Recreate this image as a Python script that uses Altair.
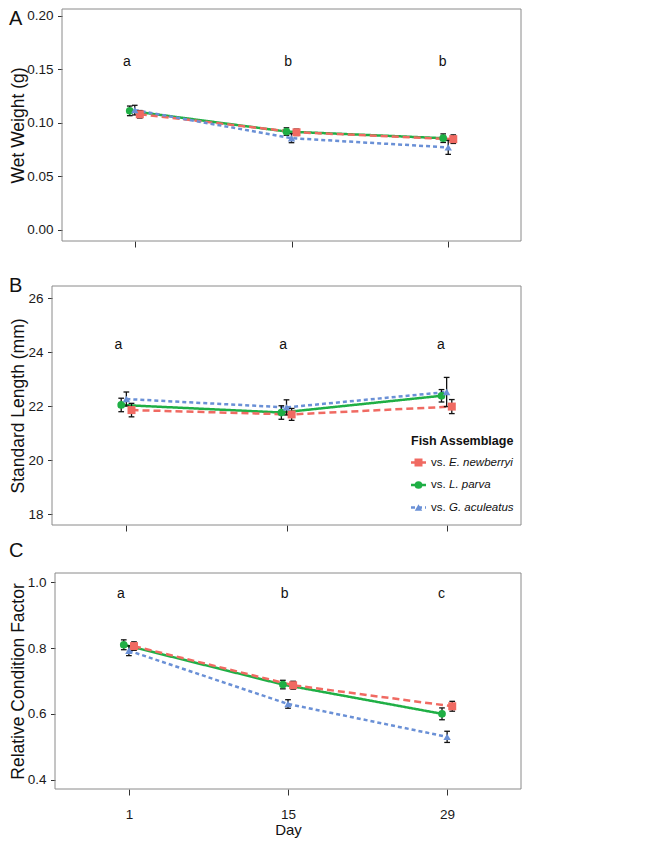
import altair as alt
import pandas as pd

# ---------------- data ----------------
days = [1, 15, 29]
series = ["vs. E. newberryi", "vs. L. parva", "vs. G. aculeatus"]
species = ["E. newberryi", "L. parva", "G. aculeatus"]
colors = ["#F06A62", "#1FAF45", "#6A90D6"]
dashes = [[7, 4], [1, 0], [4, 3]]
shapes = ["square", "circle", "triangle-up"]
sizes = [64, 55, 115]
dodge = [0.45, -0.45, 0.0]
draw_order = [1, 0, 2]

# Wet weight (g)
ww_en = [0.1078, 0.0910, 0.0846]
ww_en_se = [0.0035, 0.0030, 0.0040]
ww_lp = [0.1110, 0.0917, 0.0855]
ww_lp_se = [0.0045, 0.0035, 0.0040]
ww_ga = [0.1117, 0.0855, 0.0769]
ww_ga_se = [0.0045, 0.0042, 0.0065]

# Standard length (mm)
sl_en = [21.86, 21.70, 21.99]
sl_en_se = [0.25, 0.22, 0.26]
sl_lp = [22.05, 21.77, 22.39]
sl_lp_se = [0.25, 0.25, 0.23]
sl_ga = [22.27, 21.96, 22.53]
sl_ga_se = [0.26, 0.28, 0.54]

# Relative condition factor
rc_en = [0.806, 0.687, 0.623]
rc_en_se = [0.013, 0.012, 0.015]
rc_lp = [0.810, 0.689, 0.600]
rc_lp_se = [0.015, 0.013, 0.018]
rc_ga = [0.792, 0.630, 0.530]
rc_ga_se = [0.015, 0.013, 0.017]

letters_ww = ["a", "b", "b"]
letters_sl = ["a", "a", "a"]
letters_rc = ["a", "b", "c"]
letter_x = [0.3, 14.7, 28.5]
letter_y_ww = 0.1527
letter_y_sl = 24.11
letter_y_rc = 0.952

FONT = "Liberation Sans, Arial, sans-serif"
CAP = 0.25
W = 469  # common plot-group width


def make_df(means, ses):
    rows = []
    for i in draw_order:
        for j, d in enumerate(days):
            m, s = means[i][j], ses[i][j]
            x = d + dodge[i]
            rows.append({"series": series[i], "day": d, "xd": x,
                         "xl": x - CAP, "xr": x + CAP,
                         "value": m, "lo": m - s, "hi": m + s})
    return pd.DataFrame(rows)


df_ww = make_df([ww_en, ww_lp, ww_ga], [ww_en_se, ww_lp_se, ww_ga_se])
df_sl = make_df([sl_en, sl_lp, sl_ga], [sl_en_se, sl_lp_se, sl_ga_se])
df_rc = make_df([rc_en, rc_lp, rc_ga], [rc_en_se, rc_lp_se, rc_ga_se])

col = alt.Color("series:N", scale=alt.Scale(domain=series, range=colors), legend=None)
dash = alt.StrokeDash("series:N", scale=alt.Scale(domain=series, range=dashes), legend=None)
shp = alt.Shape("series:N", scale=alt.Scale(domain=series, range=shapes), legend=None)
siz = alt.Size("series:N", scale=alt.Scale(domain=series, range=sizes), legend=None)


def panel(df, letters, letter_y, ydomain, yvalues, yfmt, ytitle, left, height,
          tag, tag_y, bottom=False, legend=False):
    xs = alt.Scale(domain=[-5.5, 35.5], range=[left, W], nice=False, zero=False)
    ys = alt.Scale(domain=ydomain, nice=False, zero=False)
    if bottom:
        xaxis = alt.Axis(values=days, labels=True, title="Day", tickSize=6,
                         labelPadding=12.5, labelFont=FONT, labelFontSize=13.5,
                         labelColor="#1a1a1a", titleFont=FONT, titleFontSize=15,
                         titleFontWeight="normal", titleColor="#111",
                         titleX=(left + W) / 2, titleY=33, titleBaseline="top",
                         titleAlign="center")
    else:
        xaxis = alt.Axis(values=days, labels=False, title=None, tickSize=6)
    yaxis = alt.Axis(values=yvalues, format=yfmt, title=ytitle, tickSize=4.5,
                     offset=-left,
                     labelPadding=4.5, labelFont=FONT, labelFontSize=13.5,
                     labelColor="#1a1a1a", titleFont=FONT, titleFontSize=17.5,
                     titleFontWeight="normal", titleColor="#111",
                     titleX=-25 - left, titleY=height / 2, titleAngle=270,
                     titleBaseline="bottom", titleAlign="center")
    X = lambda f: alt.X(f, scale=xs, axis=xaxis)
    Y = lambda f: alt.Y(f, scale=ys, axis=yaxis)
    base = alt.Chart(df)
    one = pd.DataFrame({"t": [tag]})
    frame = alt.Chart(one).mark_rect(filled=False, color="#8a8a8a", strokeWidth=1).encode(
        x=alt.value(left), x2=alt.value(W), y=alt.value(0), y2=alt.value(height))
    lines = base.mark_line(strokeWidth=2.5).encode(
        x=X("xd:Q"), y=Y("value:Q"), color=col, strokeDash=dash, detail="series:N")
    bars = base.mark_rule(color="#111", strokeWidth=1.3).encode(
        x=X("xd:Q"), y=Y("lo:Q"), y2="hi:Q")
    cap_lo = base.mark_rule(color="#111", strokeWidth=1.3).encode(
        x=X("xl:Q"), x2="xr:Q", y=Y("lo:Q"))
    cap_hi = base.mark_rule(color="#111", strokeWidth=1.3).encode(
        x=X("xl:Q"), x2="xr:Q", y=Y("hi:Q"))
    pts = base.mark_point(filled=True, opacity=1).encode(
        x=X("xd:Q"), y=Y("value:Q"), color=col, shape=shp, size=siz)
    ldf = pd.DataFrame({"x": letter_x, "y": [letter_y] * 3, "t": letters})
    lets = alt.Chart(ldf).mark_text(font=FONT, fontSize=14, baseline="alphabetic",
                                    align="center", color="#111").encode(
        x=X("x:Q"), y=Y("y:Q"), text="t:N")
    tagm = alt.Chart(one).mark_text(font=FONT, fontSize=20, align="left",
                                    baseline="top", color="#111").encode(
        x=alt.value(-43), y=alt.value(tag_y), text="t:N")
    layers = [lines, frame, bars, cap_lo, cap_hi, pts, lets, tagm]
    if legend:
        legdf = pd.DataFrame({"series": series, "vs": ["vs."] * 3,
                              "sp": species, "k": [0, 1, 2]})
        lb = alt.Chart(legdf).transform_calculate(ly="176.5 + 22.5 * datum.k")
        LY = alt.Y("ly:Q", scale=None)
        ltitle = alt.Chart(pd.DataFrame({"t": ["Fish Assemblage"]})).mark_text(
            font=FONT, fontSize=12.5, fontWeight="bold", align="left",
            baseline="middle", color="#111").encode(
            x=alt.value(359), y=alt.value(154.7), text="t:N")
        krule = lb.mark_rule(strokeWidth=2.5).encode(
            x=alt.value(359), x2=alt.value(374), y=LY, color=col, strokeDash=dash)
        kpt = lb.mark_point(filled=True, opacity=1).encode(
            x=alt.value(366.5), y=LY, color=col, shape=shp, size=siz)
        kvs = lb.mark_text(font=FONT, fontSize=11.5, align="left", baseline="middle",
                           color="#111").encode(x=alt.value(379), y=LY, text="vs:N")
        ksp = lb.mark_text(font=FONT, fontSize=11.5, fontStyle="italic", align="left",
                           baseline="middle", color="#111").encode(
            x=alt.value(397), y=LY, text="sp:N")
        layers += [ltitle, krule, kpt, kvs, ksp]
    return alt.layer(*layers).properties(width=W, height=height)


pA = panel(df_ww, letters_ww, letter_y_ww, [-0.010453, 0.20607],
           [0, 0.05, 0.10, 0.15, 0.20], ".2f", "Wet Weight (g)", 10, 232,
           "A", 0)
pB = panel(df_sl, letters_sl, letter_y_sl, [17.604, 26.456],
           [18, 20, 22, 24, 26], "d", "Standard Length (mm)", 0, 239,
           "B", -10.5, legend=True)
pC = panel(df_rc, letters_rc, letter_y_rc, [0.3714, 1.0283],
           [0.4, 0.6, 0.8, 1.0], ".1f", "Relative Condition Factor", 3, 216,
           "C", -32.2, bottom=True)

inner = alt.vconcat(pB, pC, spacing=8)
chart = alt.vconcat(pA, inner, spacing=27).properties(padding=0).configure_view(
    stroke="transparent"
).configure_axis(domain=False, grid=False, tickColor="#333", tickWidth=1)

chart.save("out.html", embed_options={"renderer": "svg", "actions": False})
